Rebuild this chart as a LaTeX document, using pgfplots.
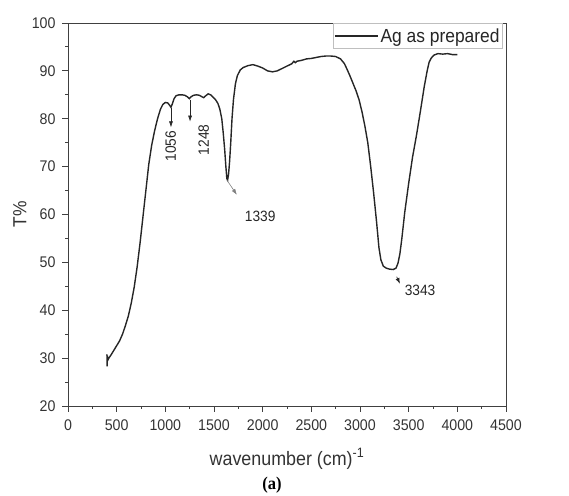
\documentclass[border=0pt]{standalone}
\usepackage{fontspec}
\setmainfont{Liberation Sans}[FakeStretch=0.92]
\newfontfamily\seriffont{Liberation Serif}[FakeStretch=0.92]
\usepackage{pgfplots}
\pgfplotsset{compat=1.18}
\usetikzlibrary{arrows.meta}
\pgfplotstableread{
x y
400 30.8
402 28.3
405 30.5
410 29.6
420 30.0
440 30.6
470 31.6
500 32.6
530 33.6
560 35.0
590 36.8
620 38.8
650 41.5
680 44.8
710 49.0
740 54.0
770 59.5
800 65.0
830 70.5
860 74.5
890 77.5
920 80.0
950 82.0
975 83.0
1000 83.4
1025 83.3
1045 82.8
1058 82.4
1070 83.0
1090 84.2
1110 84.8
1140 85.0
1170 85.0
1200 84.9
1225 84.6
1247 84.2
1265 84.6
1290 84.9
1320 85.0
1350 84.9
1375 84.6
1395 84.4
1415 84.8
1440 85.2
1465 85.0
1490 84.5
1515 84.0
1540 83.2
1560 82.0
1580 80.0
1595 77.0
1610 73.5
1622 70.0
1632 67.5
1640 67.2
1650 68.5
1660 71.0
1672 75.0
1685 80.0
1700 84.0
1720 87.3
1740 89.0
1770 90.2
1800 90.7
1850 91.1
1900 91.3
1950 91.0
2000 90.6
2050 90.0
2100 89.8
2150 90.0
2200 90.5
2250 91.0
2300 91.5
2320 92.0
2335 91.7
2350 92.0
2400 92.2
2450 92.5
2500 92.6
2550 92.8
2600 93.0
2650 93.1
2700 93.1
2750 93.0
2800 92.5
2840 91.5
2870 90.2
2900 88.8
2930 87.3
2960 85.8
2990 84.0
3020 81.5
3050 78.5
3080 75.0
3110 70.0
3140 64.5
3170 58.5
3195 53.0
3215 50.5
3240 49.2
3270 48.8
3300 48.6
3340 48.5
3370 48.8
3390 49.8
3410 51.8
3430 55.0
3460 60.5
3500 66.5
3540 72.0
3580 76.5
3620 81.5
3660 86.7
3690 90.0
3710 91.8
3730 92.6
3745 93.0
3760 93.3
3800 93.6
3850 93.5
3900 93.6
3950 93.4
4000 93.4
}\spectrum
\begin{document}
\begin{tikzpicture}
\path[use as bounding box] (0,0) rectangle (569bp,496bp);
\begin{axis}[
  at={(68bp,90bp)}, anchor=south west,
  scale only axis, width=438bp, height=383bp,
  xmin=0, xmax=4500, ymin=20, ymax=100,
  xtick={0,500,...,4500}, ytick={20,30,...,100},
  minor x tick num=1, minor y tick num=1,
  tick align=outside, xtick pos=bottom, ytick pos=left,
  major tick length=6bp, minor tick length=3bp,
  axis line style={black!75, line width=0.9bp},
  every tick/.style={black!75, line width=0.9bp},
  /pgf/number format/assume math mode=true,
  /pgf/number format/set thousands separator={},
  tick label style={font=\fontsize{15.5}{17}\selectfont, text=black!80},
  xticklabel style={yshift=-4.5bp},
  yticklabel style={xshift=-3bp},
  xlabel={wavenumber (cm)\textsuperscript{-1}},
  ylabel={T\%},
  xlabel style={at={(axis description cs:0.5,-0.138)}, anchor=center, font=\fontsize{19.5}{21}\selectfont, text=black!80},
  ylabel style={at={(axis description cs:-0.11,0.5)}, anchor=center, font=\fontsize{19}{21}\selectfont, text=black!80},
  legend style={at={(rel axis cs:0.9932,1)}, anchor=north east, draw=black!25, line width=0.8bp,
    font=\fontsize{19}{20}\selectfont, text=black!85, inner xsep=1bp, inner ysep=3bp, row sep=0bp},
  legend cell align=left,
  legend image code/.code={\draw[#1] (0bp,0bp) -- (43bp,0bp);},
]
\addplot[black!85, line width=1.4bp] table[x=x,y=y] {\spectrum};
\addlegendentry{Ag as prepared}
\draw[-{Latex[length=6bp,width=4bp]}, black!85, line width=0.6bp] (axis cs:1058,82.2) -- (axis cs:1058,78.2);
\node[rotate=90, font=\fontsize{15}{17}\selectfont, text=black!85] at (axis cs:1056,74.3) {1056};
\draw[-{Latex[length=6bp,width=4bp]}, black!85, line width=0.6bp] (axis cs:1254,84.0) -- (axis cs:1254,79.4);
\node[rotate=90, font=\fontsize{15}{17}\selectfont, text=black!85] at (axis cs:1395,75.6) {1248};
\draw[-{Latex[length=6bp,width=4bp]}, black!50, line width=0.6bp] (axis cs:1632,67.2) -- (axis cs:1735,64.1);
\node[font=\fontsize{15}{17}\selectfont, text=black!85] at (axis cs:1975,59.7) {1339};
\draw[-{Latex[length=6bp,width=4bp]}, black!85, line width=0.6bp] (axis cs:3377,47.0) -- (axis cs:3411,45.5);
\node[font=\fontsize{15}{17}\selectfont, text=black!85] at (axis cs:3617,44.2) {3343};
\end{axis}
\node[font=\seriffont\bfseries\fontsize{18}{20}\selectfont] at (272bp,11bp) {(a)};
\end{tikzpicture}
\end{document}
